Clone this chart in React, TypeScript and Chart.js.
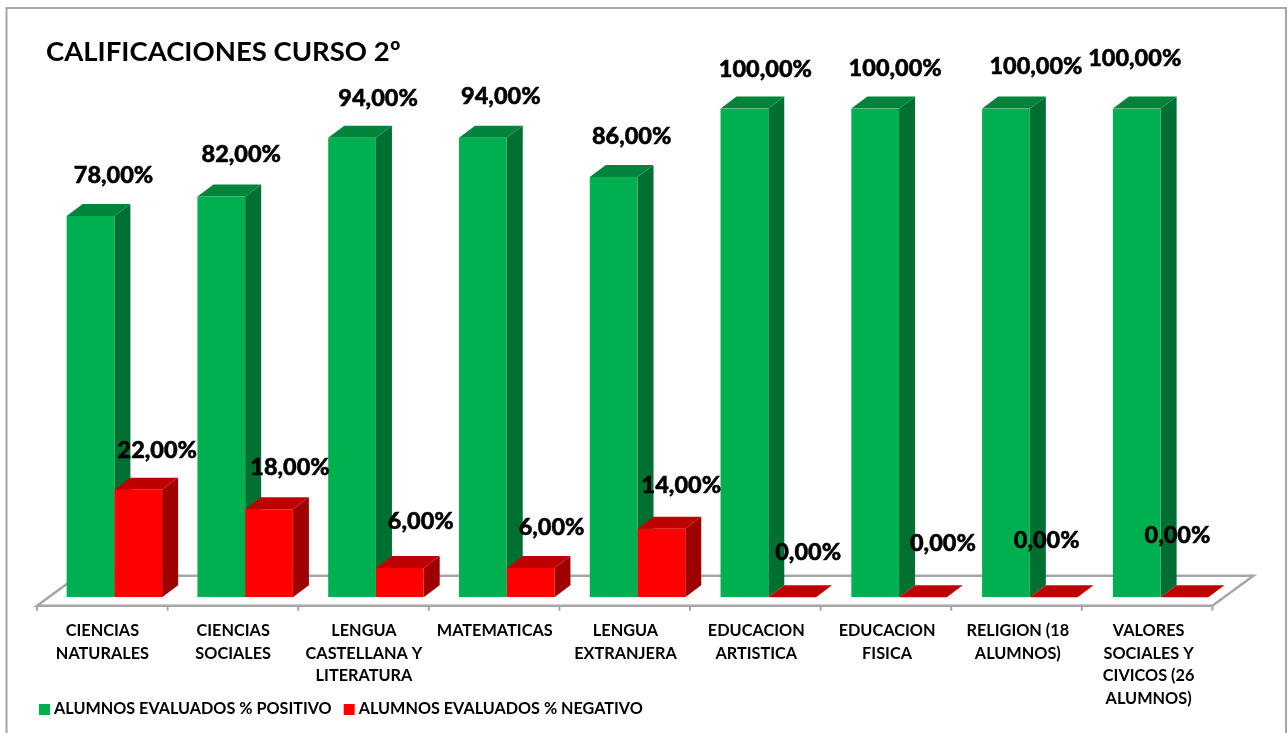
import React, { useEffect, useRef } from "react";
import { Chart, registerables } from "chart.js";

Chart.register(...registerables);

const categories: (string | string[])[] = [
  ["CIENCIAS", "NATURALES"],
  ["CIENCIAS", "SOCIALES"],
  ["LENGUA", "CASTELLANA Y", "LITERATURA"],
  "MATEMATICAS",
  ["LENGUA", "EXTRANJERA"],
  ["EDUCACION", "ARTISTICA"],
  ["EDUCACION", "FISICA"],
  ["RELIGION (18", "ALUMNOS)"],
  ["VALORES", "SOCIALES Y", "CIVICOS (26", "ALUMNOS)"],
];
const positivo = [78, 82, 94, 94, 86, 100, 100, 100, 100];
const negativo = [22, 18, 6, 6, 14, 0, 0, 0, 0];

const positivoLabelShift = [[23, -41], [20, -42], [26, -39], [18, -41], [18, -41], [21, -39], [20, -40], [30, -42], [-2, -50]];
const negativoLabelShift = [[19, -39], [21, -42], [21, -47], [21, -41], [20, -43], [16, -45], [20, -54], [-7, -57], [-7, -62]];

const GREEN = { front: "#00B050", top: "#00843C", side: "#006F32" };
const RED = { front: "#FF0000", top: "#BF0000", side: "#9E0000" };
const DEPTH = { x: 16, y: 12 };
const FLOOR = { drop: 8.5, x: 41, y: 30, shift: 12, step: 130.6, tick: 5, color: "#A6A6A6" };
const FONT = "Lato, Carlito, sans-serif";

function legendSwatch(color: string) {
  const c = document.createElement("canvas");
  c.width = 23;
  c.height = 11;
  const g = c.getContext("2d")!;
  g.fillStyle = color;
  g.fillRect(8, 0, 11, 11);
  return c;
}

const scene = {
  id: "scene3d",
  afterLayout(chart: any) {
    chart.titleBlock.left = 46;
    chart.legend.left = 27;
    chart.legend.top = 689;
    chart.scales.x.bottom = chart.height;
  },
  beforeDraw(chart: any) {
    const { ctx } = chart;
    ctx.save();
    ctx.strokeStyle = "#A6A6A6";
    ctx.lineWidth = 2;
    ctx.beginPath();
    ctx.moveTo(6.5, 740);
    ctx.lineTo(6.5, 8);
    ctx.lineTo(1286, 8);
    ctx.lineTo(1286, 740);
    ctx.stroke();
    ctx.restore();
  },
  beforeDatasetsDraw(chart: any) {
    const { ctx, chartArea, scales } = chart;
    const y0 = chartArea.bottom + FLOOR.drop;
    const x0 = scales.x.left - FLOOR.shift;
    const x1 = x0 + FLOOR.step * categories.length;
    ctx.save();
    ctx.strokeStyle = FLOOR.color;
    ctx.lineWidth = 2.5;
    ctx.beginPath();
    ctx.moveTo(x0, y0);
    ctx.lineTo(x0 + FLOOR.x, y0 - FLOOR.y);
    ctx.lineTo(x1 + FLOOR.x, y0 - FLOOR.y);
    ctx.lineTo(x1, y0);
    ctx.closePath();
    ctx.stroke();
    ctx.lineWidth = 2;
    ctx.beginPath();
    for (let i = 0; i <= categories.length; i++) {
      ctx.moveTo(x0 + i * FLOOR.step, y0);
      ctx.lineTo(x0 + i * FLOOR.step, y0 + FLOOR.tick);
    }
    ctx.stroke();
    [GREEN, RED].forEach((pal, d) => {
      chart.getDatasetMeta(d).data.forEach((bar: any) => {
        const p = bar.getProps(["x", "y", "base", "width"], true);
        const r = p.x + p.width / 2;
        const l = p.x - p.width / 2;
        if (p.base - p.y > 0.5) {
          ctx.fillStyle = pal.side;
          ctx.beginPath();
          ctx.moveTo(r, p.y);
          ctx.lineTo(r + DEPTH.x, p.y - DEPTH.y);
          ctx.lineTo(r + DEPTH.x, p.base - DEPTH.y);
          ctx.lineTo(r, p.base);
          ctx.closePath();
          ctx.fill();
        }
        ctx.fillStyle = pal.top;
        ctx.beginPath();
        ctx.moveTo(l, p.y);
        ctx.lineTo(l + DEPTH.x, p.y - DEPTH.y);
        ctx.lineTo(r + DEPTH.x, p.y - DEPTH.y);
        ctx.lineTo(r, p.y);
        ctx.closePath();
        ctx.fill();
      });
    });
    ctx.restore();
  },
  afterDatasetsDraw(chart: any) {
    const { ctx } = chart;
    ctx.save();
    ctx.fillStyle = "#000";
    ctx.strokeStyle = "#000";
    ctx.lineWidth = 0.5;
    ctx.font = `900 23.5px ${FONT}`;
    ctx.textAlign = "center";
    ctx.textBaseline = "middle";
    [positivoLabelShift, negativoLabelShift].forEach((shift, d) => {
      const values = chart.data.datasets[d].data as number[];
      chart.getDatasetMeta(d).data.forEach((bar: any, i: number) => {
        const text = values[i].toFixed(2).replace(".", ",") + "%";
        ctx.fillText(text, bar.x + shift[i][0], bar.y + shift[i][1]);
        ctx.strokeText(text, bar.x + shift[i][0], bar.y + shift[i][1]);
      });
    });
    ctx.restore();
  },
};

export default function App() {
  const ref = useRef<HTMLCanvasElement>(null);
  useEffect(() => {
    document.body.style.margin = "0";
    const chart = new Chart(ref.current!, {
      type: "bar",
      data: {
        labels: categories as any,
        datasets: [
          { label: "ALUMNOS EVALUADOS % POSITIVO", data: positivo, backgroundColor: GREEN.front, pointStyle: legendSwatch(GREEN.front) as any },
          { label: "ALUMNOS EVALUADOS % NEGATIVO", data: negativo, backgroundColor: RED.front, pointStyle: legendSwatch(RED.front) as any },
        ],
      },
      options: {
        animation: false,
        responsive: false,
        layout: { padding: { left: 49, right: 61, top: 0, bottom: 0 } },
        datasets: { bar: { barPercentage: 1, categoryPercentage: 0.73 } },
        plugins: {
          title: {
            display: true,
            text: "CALIFICACIONES CURSO 2º",
            align: "start",
            color: "#000",
            font: { family: FONT, size: 27.5, weight: "bold", lineHeight: 1.2 },
            padding: { top: 36, bottom: 39.5 },
          },
          legend: {
            position: "bottom",
            align: "start",
            onClick: () => {},
            labels: {
              usePointStyle: true,
              boxWidth: 7,
              boxHeight: 7,
              padding: 12,
              color: "#000",
              font: { family: FONT, size: 16.2, weight: "bold" },
            },
          },
          tooltip: { enabled: false },
        },
        scales: {
          x: {
            grid: { display: false },
            border: { display: false },
            afterFit: (s: any) => { s.height = 97.5; },
            ticks: {
              autoSkip: false,
              maxRotation: 0,
              minRotation: 0,
              labelOffset: -12,
              padding: 14.5,
              color: "#000",
              font: { family: FONT, size: 16.3, weight: "bold", lineHeight: 1.38 },
            },
          },
          y: {
            display: false,
            min: 0,
            max: 100,
          },
        },
      } as any,
      plugins: [scene],
    });
    return () => chart.destroy();
  }, []);
  return <canvas ref={ref} width={1287} height={733} style={{ display: "block" }} />;
}
